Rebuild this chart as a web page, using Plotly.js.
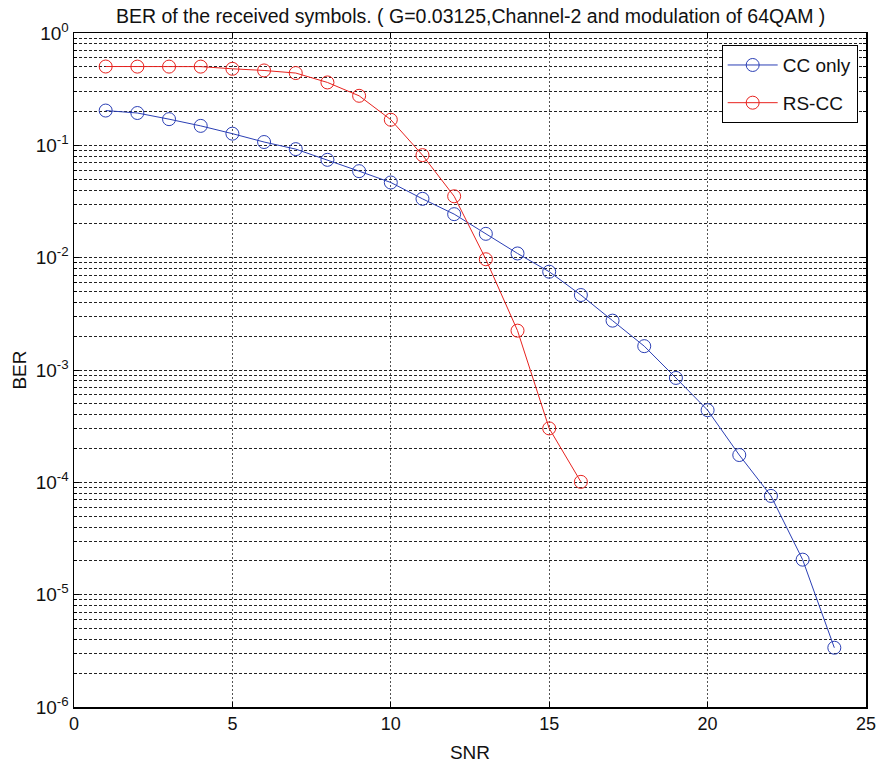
<!DOCTYPE html>
<html>
<head>
<meta charset="utf-8">
<script src="https://cdn.plot.ly/plotly-3.0.1.min.js"></script>
<style>html,body{margin:0;padding:0;background:#fff;}#chart{width:883px;height:763px;}</style>
</head>
<body>
<div id="chart"></div>
<script>
const snrCC = [1,2,3,4,5,6,7,8,9,10,11,12,13,14,15,16,17,18,19,20,21,22,23,24];
const berCC = [0.204,0.194,0.171,0.149,0.127,0.107,0.0925,0.0743,0.0589,0.0467,0.0334,0.0244,0.0163,0.0109,0.0075,0.00465,0.00275,0.00163,0.00085,0.000439,0.000175,0.0000757,0.0000205,0.00000337];
const snrRS = [1,2,3,4,5,6,7,8,9,10,11,12,13,14,15,16];
const berRS = [0.503,0.502,0.502,0.502,0.48,0.464,0.44,0.363,0.276,0.169,0.0818,0.0352,0.00968,0.00224,0.000302,0.000101];
const yTickVals = [1e-6,1e-5,1e-4,1e-3,1e-2,1e-1,1];
const yTickText = ['10<sup>-6</sup>','10<sup>-5</sup>','10<sup>-4</sup>','10<sup>-3</sup>','10<sup>-2</sup>','10<sup>-1</sup>','10<sup>0</sup>'];
const xTickVals = [0,5,10,15,20,25];

const font = 'Liberation Sans, Arial, sans-serif';
const traces = [
  {x: snrCC, y: berCC, name: 'CC only', legendgroup: 'a', type: 'scatter', mode: 'lines+markers',
   line: {color: '#2b3fb5', width: 1},
   marker: {symbol: 'circle-open', size: 13, color: '#2b3fb5', line: {width: 1}}},
  {x: snrRS, y: berRS, name: 'RS-CC', legendgroup: 'b', type: 'scatter', mode: 'lines+markers',
   line: {color: '#e8231f', width: 1},
   marker: {symbol: 'circle-open', size: 13, color: '#e8231f', line: {width: 1}}}
];
const layout = {
  width: 883, height: 763,
  margin: {l: 74, r: 17, t: 33, b: 56},
  paper_bgcolor: '#fff', plot_bgcolor: '#fff',
  font: {family: font, size: 15, color: '#111'},
  title: {text: 'BER of the received symbols. ( G=0.03125,Channel-2 and modulation of 64QAM )',
          font: {family: font, size: 19.5, color: '#111'}, x: 0.533, xanchor: 'center', y: 0.979, yanchor: 'middle'},
  showlegend: true,
  legend: {x: 0.9895, xanchor: 'right', y: 0.982, yanchor: 'top', bgcolor: '#fff',
           bordercolor: '#000', borderwidth: 1, font: {family: font, size: 19, color: '#111'},
           itemwidth: 50, tracegroupgap: 10},
  xaxis: {range: [0, 25], tickvals: xTickVals, ticks: 'inside', ticklen: 5, tickcolor: '#000',
          showline: true, linecolor: '#000', linewidth: 1.5, mirror: 'ticks',
          showgrid: true, gridcolor: '#555', griddash: '2px,2px', gridwidth: 1, zeroline: false,
          title: {text: 'SNR', font: {family: font, size: 19, color: '#111'}, standoff: 16},
          tickfont: {family: font, size: 18, color: '#111'}},
  yaxis: {type: 'log', range: [-6, 0], tickvals: yTickVals, ticktext: yTickText,
          ticks: 'inside', ticklen: 5, tickcolor: '#000',
          showline: true, linecolor: '#000', linewidth: 1.5, mirror: 'ticks',
          showgrid: true, gridcolor: '#222', griddash: '3px,2px', gridwidth: 1, zeroline: false,
          minor: {dtick: 'D1', showgrid: true, gridcolor: '#222', griddash: '3px,2px', gridwidth: 1,
                  ticks: 'inside', ticklen: 3, tickcolor: '#000'},
          title: {text: 'BER', font: {family: font, size: 19, color: '#111'}, standoff: 4},
          tickfont: {family: font, size: 19, color: '#111'}}
};
Plotly.newPlot('chart', traces, layout, {displayModeBar: false, staticPlot: true});
</script>
</body>
</html>
